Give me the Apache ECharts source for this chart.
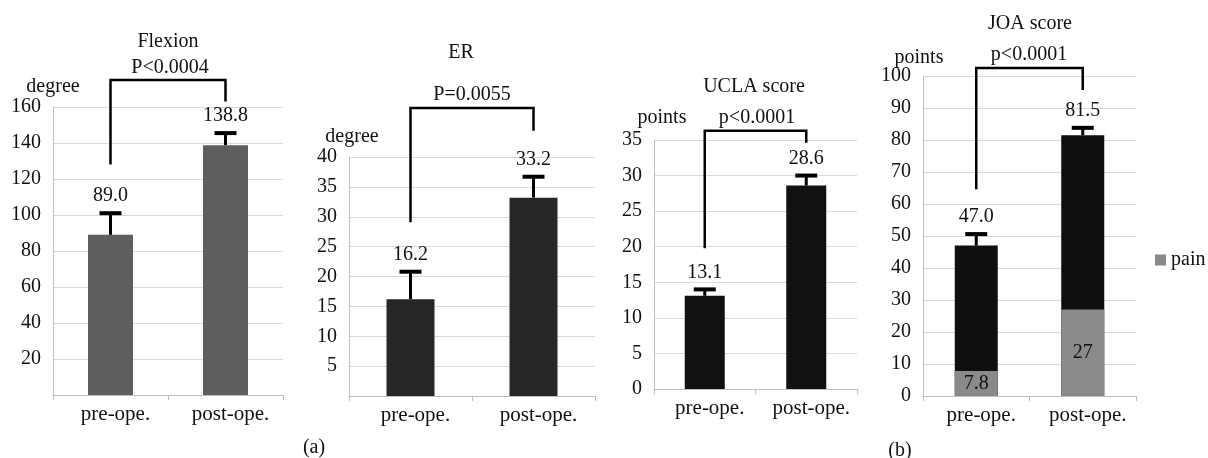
<!DOCTYPE html>
<html>
<head>
<meta charset="utf-8">
<script src="https://cdn.jsdelivr.net/npm/echarts@6/dist/echarts.min.js"></script>
<style>
    html, body { margin: 0; padding: 0; background: #fff; }
    #main { width: 1208px; height: 458px; }
</style>
</head>
<body>
<div id="main"></div>
<script>
/** categories */
var categories = ['pre-ope.', 'post-ope.'];

/** Flexion (degree) */
var flexionMean = [89.0, 138.8];
var flexionErrTop = [101, 145.5];
// bracket: [left leg bottom, bracket top, right leg bottom]
var flexionBracket = [128, 175, 163];

/** ER (degree) */
var erMean = [16.2, 33.2];
var erErrTop = [20.8, 36.7];
var erBracket = [29.1, 48.2, 44.4];

/** UCLA score (points) */
var uclaMean = [13.1, 28.6];
var uclaErrTop = [14.0, 30.0];
var uclaBracket = [19.8, 36.3, 34.6];

/** JOA score (points) */
var joaTotal = [47.0, 81.5];
var joaPain = [7.8, 27];
var joaErrTop = [50.6, 83.8];
var joaBracket = [64.6, 102.5, 95.6];

/** y axis ranges [max, interval, show zero label] */
var yAxisMax = [160, 40, 35, 100];
var yAxisInterval = [20, 5, 5, 10];
var yAxisShowZero = [false, false, true, true];

var FONT = '"Liberation Serif", "Times New Roman", serif';

// error bar + value label
function errorRender(params, api) {
    var base = api.coord([api.value(0), api.value(1)]);
    var top = api.coord([api.value(0), api.value(2)]);
    var cap = 11;
    return {
        type: 'group',
        children: [
            { type: 'line', shape: { x1: base[0], y1: base[1], x2: top[0], y2: top[1] },
              style: { stroke: '#000', lineWidth: 3 } },
            { type: 'line', shape: { x1: top[0] - cap, y1: top[1], x2: top[0] + cap, y2: top[1] },
              style: { stroke: '#000', lineWidth: 4 } },
            { type: 'text', x: top[0], y: top[1] - 17,
              style: { text: api.value(1).toFixed(1), textAlign: 'center', textVerticalAlign: 'middle',
                       font: '20px ' + FONT, fill: '#111' } }
        ]
    };
}

// significance bracket
function bracketRender(params, api) {
    var p1 = api.coord([0, api.value(0)]);
    var p2 = api.coord([0, api.value(1)]);
    var p3 = api.coord([1, api.value(1)]);
    var p4 = api.coord([1, api.value(2)]);
    return {
        type: 'polyline',
        shape: { points: [p1, p2, p3, p4] },
        style: { stroke: '#000', lineWidth: 2.5, fill: null }
    };
}

function errorData(mean, errTop) {
    var d = [];
    for (var i = 0; i < mean.length; i++) {
        d.push([i, mean[i], errTop[i]]);
    }
    return d;
}

function makeText(text, x, y) {
    return {
        type: 'text', x: x, y: y,
        style: { text: text, textAlign: 'center', textVerticalAlign: 'middle',
                 font: '20px ' + FONT, fill: '#111' }
    };
}

/**
 * 渲染视图
 */
function draw() {
    var myChart = echarts.init(document.getElementById('main'));

    var grids = [
        { left: 53, top: 107, width: 230, height: 288 },
        { left: 349, top: 157, width: 246, height: 239 },
        { left: 654, top: 140, width: 203, height: 249 },
        { left: 923, top: 76, width: 213, height: 320 }
    ];

    var xAxes = [], yAxes = [];
    for (var i = 0; i < 4; i++) {
        xAxes.push({
            type: 'category', gridIndex: i, data: categories,
            axisLine: { lineStyle: { color: '#bfbfbf' } },
            axisTick: { show: true, length: 5, lineStyle: { color: '#bfbfbf' } },
            axisLabel: { color: '#111', fontSize: 21, fontFamily: FONT, margin: 9,
                         padding: [0, 0, 0, 10] }
        });
        (function (showZero) {
            yAxes.push({
                type: 'value', gridIndex: i, min: 0, max: yAxisMax[i], interval: yAxisInterval[i],
                axisLine: { show: true, lineStyle: { color: '#bfbfbf' } },
                axisTick: { show: false },
                splitLine: { lineStyle: { color: '#d9d9d9' } },
                axisLabel: {
                    color: '#111', fontSize: 20, fontFamily: FONT, margin: 12,
                    formatter: function (v) { return (v === 0 && !showZero) ? '' : String(v); }
                }
            });
        })(yAxisShowZero[i]);
    }

    var option = {
        animation: false,
        grid: grids,
        xAxis: xAxes,
        yAxis: yAxes,
        legend: {
            data: ['pain'], left: 1150, top: 245, icon: 'rect',
            itemWidth: 11, itemHeight: 11, itemGap: 6,
            textStyle: { color: '#111', fontSize: 20, fontFamily: FONT }
        },
        graphic: [
            makeText('Flexion', 168, 42),
            makeText('P<0.0004', 170, 68),
            makeText('degree', 53, 87),
            makeText('ER', 461, 53),
            makeText('P=0.0055', 472, 95),
            makeText('degree', 352, 137),
            makeText('UCLA score', 754, 87),
            makeText('points', 662, 118),
            makeText('p<0.0001', 757, 118),
            makeText('JOA score', 1030, 24),
            makeText('points', 919, 58),
            makeText('p<0.0001', 1029, 55),
            makeText('(a)', 314, 448),
            makeText('(b)', 900, 451)
        ],
        series: [
            // Flexion
            { type: 'bar', xAxisIndex: 0, yAxisIndex: 0, data: flexionMean, barWidth: 45,
              itemStyle: { color: '#5e5e5e' } },
            { type: 'custom', xAxisIndex: 0, yAxisIndex: 0, data: errorData(flexionMean, flexionErrTop),
              renderItem: errorRender, z: 5 },
            { type: 'custom', xAxisIndex: 0, yAxisIndex: 0, data: [flexionBracket],
              renderItem: bracketRender, clip: false, z: 5 },
            // ER
            { type: 'bar', xAxisIndex: 1, yAxisIndex: 1, data: erMean, barWidth: 48,
              itemStyle: { color: '#262626' } },
            { type: 'custom', xAxisIndex: 1, yAxisIndex: 1, data: errorData(erMean, erErrTop),
              renderItem: errorRender, z: 5 },
            { type: 'custom', xAxisIndex: 1, yAxisIndex: 1, data: [erBracket],
              renderItem: bracketRender, clip: false, z: 5 },
            // UCLA
            { type: 'bar', xAxisIndex: 2, yAxisIndex: 2, data: uclaMean, barWidth: 40,
              itemStyle: { color: '#111' } },
            { type: 'custom', xAxisIndex: 2, yAxisIndex: 2, data: errorData(uclaMean, uclaErrTop),
              renderItem: errorRender, z: 5 },
            { type: 'custom', xAxisIndex: 2, yAxisIndex: 2, data: [uclaBracket],
              renderItem: bracketRender, clip: false, z: 5 },
            // JOA
            { name: 'total', type: 'bar', xAxisIndex: 3, yAxisIndex: 3, data: joaTotal, barWidth: 43,
              itemStyle: { color: '#0f0f0f' } },
            { name: 'pain', type: 'bar', xAxisIndex: 3, yAxisIndex: 3, data: joaPain, barWidth: 43,
              barGap: '-100%', z: 3, itemStyle: { color: '#8a8a8a' },
              label: { show: true, position: 'inside', color: '#111', fontSize: 20, fontFamily: FONT } },
            { type: 'custom', xAxisIndex: 3, yAxisIndex: 3, data: errorData(joaTotal, joaErrTop),
              renderItem: errorRender, z: 5 },
            { type: 'custom', xAxisIndex: 3, yAxisIndex: 3, data: [joaBracket],
              renderItem: bracketRender, clip: false, z: 5 }
        ]
    };

    myChart.setOption(option);
}

draw();
</script>
</body>
</html>
